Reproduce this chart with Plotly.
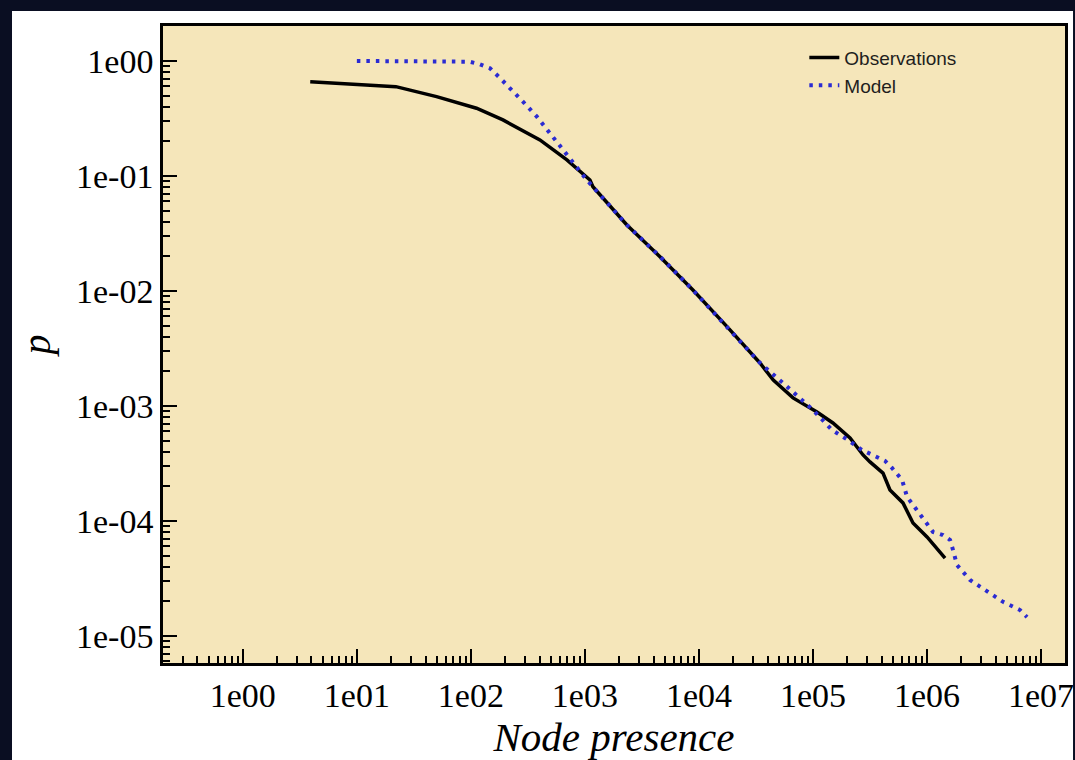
import plotly.graph_objects as go

# ---------------- data ----------------
obs_x = [3.9, 22, 50, 112, 191, 403, 695, 1107, 1175, 2333, 4550, 8850, 17620,
         34280, 44870, 66830, 108400, 149600, 211300, 274800, 316200, 411100,
         473200, 615200, 753400, 1000000, 1439000]
obs_y = [0.66, 0.598, 0.49, 0.388, 0.307, 0.206, 0.138, 0.0923, 0.0807, 0.0375,
         0.01986, 0.0102, 0.0049, 0.002366, 0.001683, 0.001175, 0.000887,
         0.000711, 0.000527, 0.000375, 0.000326, 0.000261, 0.000186,
         0.0001436, 0.0000962, 0.0000726, 0.0000476]

model_x = [10, 98, 120, 147, 180, 220, 286, 379, 493, 641, 851, 1042, 2333, 4550,
           8850, 17620, 34280, 54580, 76910, 100000, 146900, 202800, 269200,
           363900, 428500, 493200, 604000, 668300, 753400, 903600, 1130000,
           1380000, 1592000, 1690000, 1832000, 2382000, 3357000, 4645000,
           6546000, 7534000]
model_y = [1.0, 0.985, 0.936, 0.864, 0.711, 0.586, 0.443, 0.328, 0.237, 0.168,
           0.12, 0.092, 0.0375, 0.0199, 0.0102, 0.0049, 0.00237, 0.001585,
           0.001175, 0.000923, 0.000618, 0.000506, 0.000414, 0.000361,
           0.000333, 0.000289, 0.000228, 0.000162, 0.000138, 0.000106,
           0.0000802, 0.0000755, 0.0000684, 0.000056, 0.0000414, 0.0000307,
           0.0000242, 0.0000198, 0.0000168, 0.0000146]

x_tick_vals = [1, 10, 100, 1e3, 1e4, 1e5, 1e6, 1e7]
x_tick_text = ["1e00", "1e01", "1e02", "1e03", "1e04", "1e05", "1e06", "1e07"]
y_tick_vals = [1, 1e-1, 1e-2, 1e-3, 1e-4, 1e-5]
y_tick_text = ["1e00", "1e-01", "1e-02", "1e-03", "1e-04", "1e-05"]

x_minor = [m * 10 ** k for k in range(-1, 8) for m in range(2, 10)]
y_minor = [m * 10.0 ** k for k in range(-6, 1) for m in range(2, 10)]

# ---------------- style ----------------
WHEAT = "#F5E6BA"
DARK = "#0a0e22"
SERIF = "Liberation Serif, Times New Roman, serif"
SANS = "Liberation Sans, Arial, sans-serif"

fig = go.Figure()
fig.add_trace(go.Scatter(x=obs_x, y=obs_y, mode="lines", name="Observations",
                         line=dict(color="black", width=3.5)))
fig.add_trace(go.Scatter(x=model_x, y=model_y, mode="lines", name="Model",
                         line=dict(color="#2B2BD2", width=4, dash="3.5px,6px")))

axis_common = dict(
    type="log", showgrid=False, zeroline=False, automargin=False,
    showline=True, linecolor="black", linewidth=2.5, mirror=True,
    ticks="inside", ticklen=14, tickwidth=2, tickcolor="black",
    tickfont=dict(family=SERIF, size=34, color="black"),
)

fig.update_xaxes(**axis_common, range=[-0.70, 7.21],
                 tickmode="array", tickvals=x_tick_vals, ticktext=x_tick_text,
                 minor=dict(tickmode="array", tickvals=x_minor, ticks="inside",
                            ticklen=7, tickwidth=1.5, tickcolor="black"),
                 title=dict(text="Node presence", standoff=0,
                            font=dict(family=SERIF, size=41, color="black",
                                      style="italic")))
fig.update_yaxes(**axis_common, range=[-5.235, 0.304],
                 tickmode="array", tickvals=y_tick_vals, ticktext=y_tick_text,
                 minor=dict(tickmode="array", tickvals=y_minor, ticks="inside",
                            ticklen=7, tickwidth=1.5, tickcolor="black"),
                 title=dict(text="p", standoff=14,
                            font=dict(family=SERIF, size=40, color="black",
                                      style="italic")))

fig.update_layout(
    width=1075, height=760,
    margin=dict(l=163, r=10, t=26, b=97),
    paper_bgcolor=DARK,
    plot_bgcolor=WHEAT,
    showlegend=True,
    legend=dict(x=0.711, y=0.98, xanchor="left", yanchor="top",
                bgcolor="rgba(0,0,0,0)", borderwidth=0,
                font=dict(family=SANS, size=19, color="#1e1e1e"),
                tracegroupgap=0),
    shapes=[
        dict(type="rect", xref="paper", yref="paper", x0=-0.1674, x1=1.0089,
             y0=-0.2, y1=1.0235, fillcolor="white", line=dict(width=0),
             layer="below"),
        dict(type="rect", xref="paper", yref="paper", x0=0, x1=1, y0=0, y1=1,
             fillcolor=WHEAT, line=dict(width=0), layer="below"),
    ],
)

fig.write_html(
    "out.html",
    config={"displayModeBar": False},
    post_script=("document.body.style.margin='0';"
                 "document.body.style.background='" + DARK + "';"),
)
